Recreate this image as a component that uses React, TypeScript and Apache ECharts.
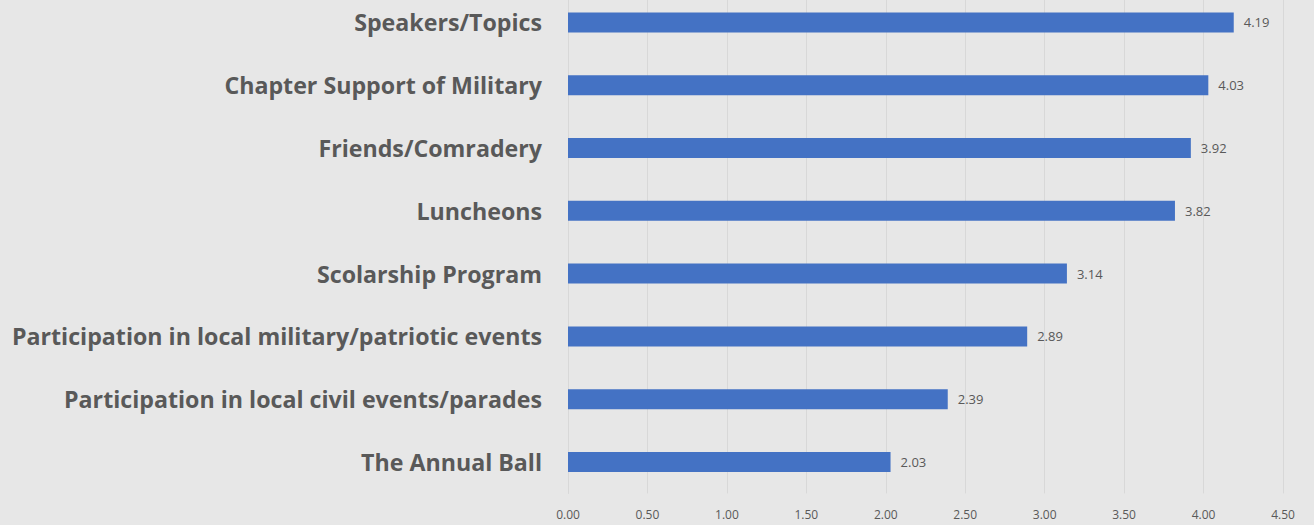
import React, { useEffect, useRef } from "react";
import * as echarts from "echarts";

const categories = [
  "Speakers/Topics",
  "Chapter Support of Military",
  "Friends/Comradery",
  "Luncheons",
  "Scolarship Program",
  "Participation in local military/patriotic events",
  "Participation in local civil events/parades",
  "The Annual Ball",
];
const values = [4.19, 4.03, 3.92, 3.82, 3.14, 2.89, 2.39, 2.03];
const axisMin = 0;
const axisMax = 4.5;
const axisStep = 0.5;

export default function App() {
  const ref = useRef<HTMLDivElement>(null);
  useEffect(() => {
    if (!ref.current) return;
    const chart = echarts.init(ref.current, undefined, { renderer: "svg" });
    chart.setOption({
      animation: false,
      backgroundColor: "#e7e7e7",
      grid: { left: 568, right: 31, top: 0, bottom: 31.6, containLabel: false },
      xAxis: {
        type: "value",
        min: axisMin,
        max: axisMax,
        interval: axisStep,
        axisLine: { show: false },
        axisTick: { show: false },
        splitLine: { show: true, lineStyle: { color: "#d8d8d8", width: 1 } },
        axisLabel: {
          color: "#595959",
          fontFamily: "Open Sans",
          fontSize: 12,
          margin: 15,
          formatter: (v: number) => v.toFixed(2),
        },
      },
      yAxis: {
        type: "category",
        data: categories,
        inverse: true,
        axisLine: { show: true, lineStyle: { color: "#d8d8d8" } },
        axisTick: { show: false },
        axisLabel: {
          color: "#595959",
          fontFamily: "Open Sans",
          fontWeight: "bold",
          fontSize: 23.2,
          margin: 26,
        },
      },
      series: [
        {
          type: "bar",
          data: values,
          barWidth: 20,
          itemStyle: { color: "#4472c4" },
          label: {
            show: true,
            position: "right",
            distance: 10,
            color: "#595959",
            fontFamily: "Open Sans",
            fontSize: 13,
            formatter: (p: any) => Number(p.value).toFixed(2),
          },
        },
      ],
    });
    return () => chart.dispose();
  }, []);
  return (
    <div
      ref={ref}
      style={{ position: "fixed", left: 0, top: -9.4, width: 1314, height: 534.4 }}
    />
  );
}
